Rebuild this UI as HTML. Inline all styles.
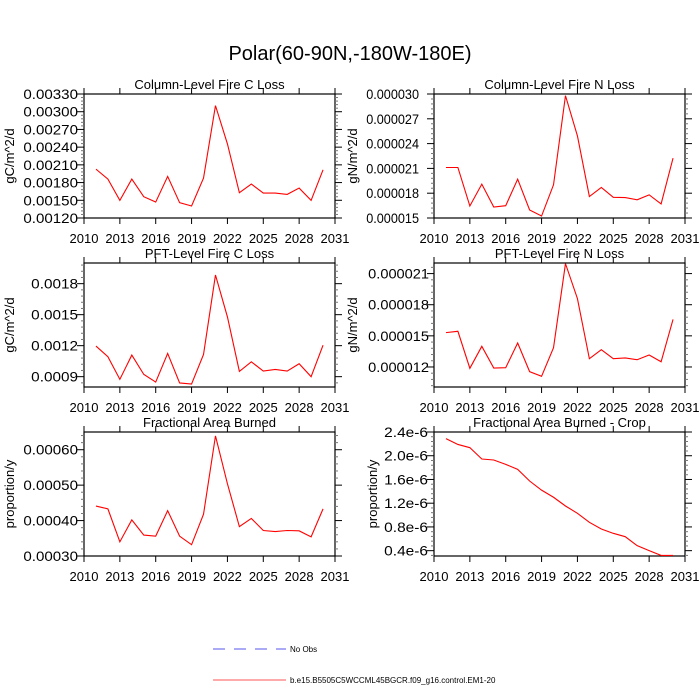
<!DOCTYPE html>
<html><head><meta charset="utf-8"><style>
body{margin:0;background:#fff;}
svg{display:block;font-family:"Liberation Sans",sans-serif;}
</style></head><body>
<svg id="chart" width="700" height="700" viewBox="0 0 700 700">
<text x="350" y="60" text-anchor="middle" font-size="20">Polar(60-90N,-180W-180E)</text>
<g>
<line x1="213" y1="649" x2="286" y2="649" stroke="#5555ee" stroke-width="1" stroke-dasharray="12,9"/>
<text x="290" y="652" font-size="8">No Obs</text>
<line x1="213" y1="680" x2="286" y2="680" stroke="#ff5555" stroke-width="1"/>
<text x="290" y="683" font-size="8">b.e15.B5505C5WCCML45BGCR.f09_g16.control.EM1-20</text>
</g>
</svg>
<script>
const years = [2011,2012,2013,2014,2015,2016,2017,2018,2019,2020,2021,2022,2023,2024,2025,2026,2027,2028,2029,2030];
const xTicks = [2010,2013,2016,2019,2022,2025,2028,2031];
const colCLoss = [0.002028,0.001859,0.001498,0.001859,0.001560,0.001470,0.001904,0.001459,0.001403,0.001876,0.003103,0.002455,0.001628,0.001774,0.001622,0.001622,0.001600,0.001707,0.001498,0.002016];
const colCTicks = ["0.00120","0.00150","0.00180","0.00210","0.00240","0.00270","0.00300","0.00330"];
const colNLoss = [21.11e-6,21.11e-6,16.45e-6,19.1e-6,16.33e-6,16.49e-6,19.7e-6,15.97e-6,15.24e-6,19.02e-6,29.8e-6,24.93e-6,17.6e-6,18.7e-6,17.5e-6,17.47e-6,17.2e-6,17.8e-6,16.7e-6,22.24e-6];
const colNTicks = ["0.000015","0.000018","0.000021","0.000024","0.000027","0.000030"];
const pftCLoss = [0.001196,0.001093,0.000874,0.001109,0.000922,0.000848,0.001125,0.000839,0.000829,0.001115,0.001884,0.001478,0.000951,0.001044,0.000954,0.000970,0.000954,0.001025,0.000900,0.001205];
const pftCTicks = ["0.0009","0.0012","0.0015","0.0018"];
const pftNLoss = [15.31e-6,15.44e-6,11.87e-6,13.99e-6,11.9e-6,11.93e-6,14.31e-6,11.55e-6,11.1e-6,13.86e-6,21.96e-6,18.59e-6,12.8e-6,13.67e-6,12.8e-6,12.87e-6,12.7e-6,13.15e-6,12.5e-6,16.59e-6];
const pftNTicks = ["0.000012","0.000015","0.000018","0.000021"];
const fab = [0.000441,0.000433,0.000340,0.000402,0.000359,0.000356,0.000428,0.000356,0.000332,0.000418,0.000639,0.000504,0.000383,0.000406,0.000372,0.000369,0.000372,0.000371,0.000354,0.000433];
const fabTicks = ["0.00030","0.00040","0.00050","0.00060"];
const fabCrop = [2.288e-6,2.19e-6,2.136e-6,1.945e-6,1.928e-6,1.855e-6,1.77e-6,1.574e-6,1.42e-6,1.30e-6,1.153e-6,1.03e-6,0.878e-6,0.765e-6,0.692e-6,0.636e-6,0.484e-6,0.40e-6,0.32e-6,0.32e-6];
const fabCropTicks = ["0.4e-6","0.8e-6","1.2e-6","1.6e-6","2.0e-6","2.4e-6"];

const NS="http://www.w3.org/2000/svg";
const svg=document.getElementById('chart');
function mk(tag,attrs,parent){const e=document.createElementNS(NS,tag);for(const k in attrs)e.setAttribute(k,attrs[k]);(parent||svg).appendChild(e);return e;}

function panel(o){
  const g=mk('g',{});
  
  
  const L=o.x0,R=o.x1,T=o.y0,B=o.y1;
  const xs=v=>L+(v-2010)/(2031-2010)*(R-L);
  const ys=v=>B-(v-o.ymin)/(o.ymax-o.ymin)*(B-T);
  const box=mk('rect',{x:L,y:T,width:R-L,height:B-T,fill:'none',stroke:'#000','stroke-width':1.2},g);
  
  
  const t=mk('text',{x:(L+R)/2,y:T-5,'text-anchor':'middle','font-size':13},g);
  t.textContent=o.title;
  
  
  xTicks.forEach(v=>{
    const x=xs(v);
    mk('line',{x1:x,y1:B,x2:x,y2:B+6,stroke:'#000'},g);
    mk('line',{x1:x,y1:T,x2:x,y2:T-6,stroke:'#000'},g);
    const lb=mk('text',{x:x,y:B+25,'text-anchor':'middle','font-size':13},g);
    lb.textContent=v;
    
    
  });
  const step=o.step;
  o.ticks.forEach(s=>{
    const v=parseFloat(s)*(o.tickScale||1);
    const y=ys(v);
    mk('line',{x1:L,y1:y,x2:L-7,y2:y,stroke:'#000'},g);
    mk('line',{x1:R,y1:y,x2:R+7,y2:y,stroke:'#000'},g);
    const w=s.length*o.cw;
    const lb=mk('text',{x:L-o.gap-w,y:y+5,'font-size':14,textLength:w,lengthAdjust:'spacingAndGlyphs'},g);
    lb.textContent=s;
    
    
  });
  const first=parseFloat(o.ticks[0])*(o.tickScale||1);
  for(let k=-20;k<60;k++){
    const v=first+k*step/5;
    if(v<o.ymin-1e-12||v>o.ymax+1e-12) continue;
    if(k%5===0) continue;
    const y=ys(v);
    mk('line',{x1:L,y1:y,x2:L-3,y2:y,stroke:'#777'},g);
    mk('line',{x1:R,y1:y,x2:R+3,y2:y,stroke:'#777'},g);
  }
  const yl=mk('text',{x:0,y:0,'text-anchor':'middle','font-size':13,transform:`translate(${o.ylx},${(T+B)/2}) rotate(-90)`},g);
  yl.textContent=o.ylabel;
  
  
  const pts=o.data.map((v,i)=>xs(years[i]).toFixed(2)+','+ys(v).toFixed(2)).join(' ');
  const pl=mk('polyline',{points:pts,fill:'none',stroke:'#ff0000','stroke-width':1.1},g);
  
  
}
panel({name:'panel-column-fire-c-loss',title:'Column-Level Fire C Loss',x0:84,x1:335,y0:94,y1:218,ymin:0.0012,ymax:0.0033,step:0.0003,ticks:colCTicks,data:colCLoss,ylabel:'gC/m^2/d',ylx:14,cw:7.8,gap:6});
panel({name:'panel-column-fire-n-loss',title:'Column-Level Fire N Loss',x0:434,x1:685,y0:94,y1:218,ymin:15e-6,ymax:30e-6,step:3e-6,ticks:colNTicks,data:colNLoss,ylabel:'gN/m^2/d',ylx:357,cw:6.6,gap:15});
panel({name:'panel-pft-fire-c-loss',title:'PFT-Level Fire C Loss',x0:84,x1:335,y0:263,y1:387,ymin:0.0008,ymax:0.0020,step:0.0003,ticks:pftCTicks,data:pftCLoss,ylabel:'gC/m^2/d',ylx:14,cw:7.8,gap:6});
panel({name:'panel-pft-fire-n-loss',title:'PFT-Level Fire N Loss',x0:434,x1:685,y0:263,y1:387,ymin:10.07e-6,ymax:22.02e-6,step:3e-6,ticks:pftNTicks,data:pftNLoss,ylabel:'gN/m^2/d',ylx:357,cw:7.6,gap:5});
panel({name:'panel-fractional-area-burned',title:'Fractional Area Burned',x0:84,x1:335,y0:432,y1:556,ymin:0.0003,ymax:0.00065,step:0.0001,ticks:fabTicks,data:fab,ylabel:'proportion/y',ylx:14,cw:7.8,gap:6});
panel({name:'panel-fractional-area-burned-crop',title:'Fractional Area Burned - Crop',x0:434,x1:685,y0:432,y1:556,ymin:0.31e-6,ymax:2.4e-6,step:0.4e-6,ticks:fabCropTicks,tickScale:1,data:fabCrop,ylabel:'proportion/y',ylx:377,cw:7.3,gap:6});
</script>
</body></html>
